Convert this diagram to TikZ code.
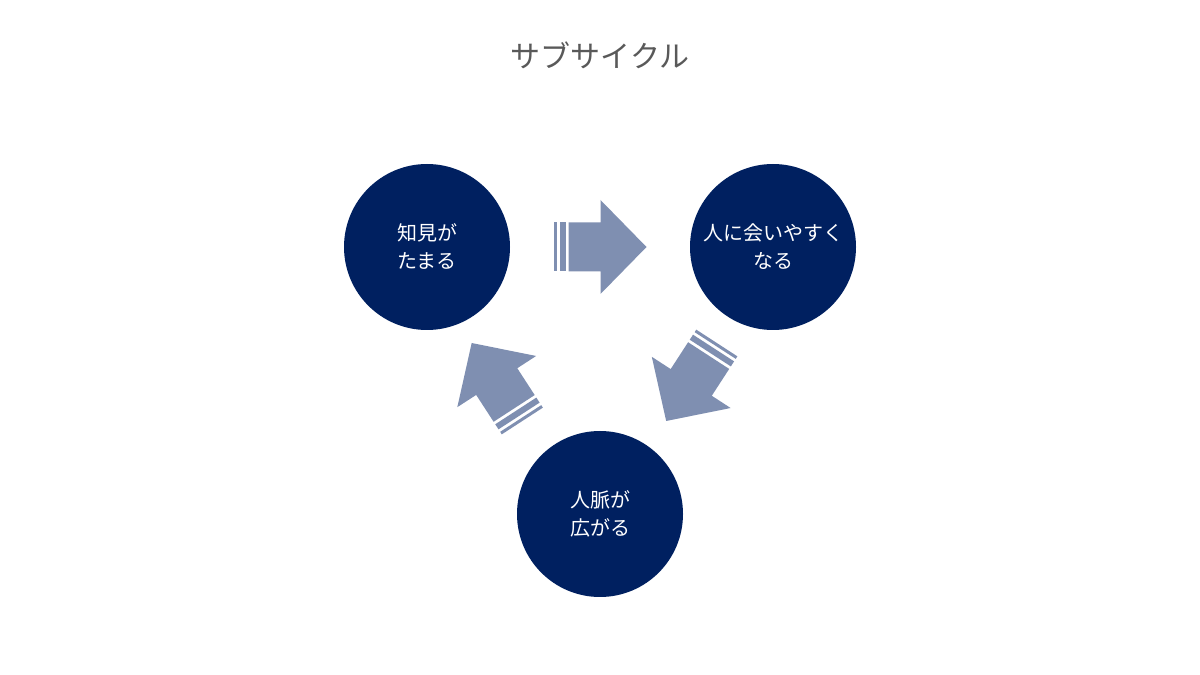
\documentclass[tikz,border=0pt]{standalone}
\usepackage{fontspec}
\setmainfont{Noto Sans CJK JP}
\usetikzlibrary{positioning,calc}
\definecolor{Kon}{HTML}{002060}
\definecolor{Usuao}{HTML}{7F8FB1}
\definecolor{Hai}{HTML}{595959}

\tikzset{
  maru/.style={circle,fill=Kon,minimum size=166pt,inner sep=0pt,
    text=white,font=\fontsize{20pt}{28pt}\selectfont,align=center},
  stripearrow/.pic={
    \fill[Usuao] (-46.5,-24.5) rectangle (-43.5,24.5);
    \fill[Usuao] (-40.5,-24.5) rectangle (-34.5,24.5);
    \fill[Usuao] (-31.5,-24.5) -- (0.5,-24.5) -- (0.5,-47) -- (46.5,0)
      -- (0.5,47) -- (0.5,24.5) -- (-31.5,24.5) -- cycle;
  }
}

\begin{document}
\begin{tikzpicture}[x=1pt,y=1pt]
        \useasboundingbox (0,0) rectangle (1200,675);
        \node[text=Hai,font=\fontsize{30pt}{36pt}\selectfont] (title) at (600,620) {サブサイクル};
        \node[maru] (chiken) at (427,428) {知見が\\たまる};
        \node[maru] (au) at (773,428) {人に会いやすく\\なる};
        \node[maru] (jinmyaku) at (600,161) {人脈が\\広がる};
        \pic[rotate=0] at ($(chiken)!0.5!(au)$) {stripearrow};
        \pic[rotate=-123] at ($(au)!0.5!(jinmyaku)+(5,-1.5)$) {stripearrow};
        \pic[rotate=123] at ($(jinmyaku)!0.5!(chiken)+(-16.5,-1.5)$) {stripearrow};
      \end{tikzpicture}
\end{document}
